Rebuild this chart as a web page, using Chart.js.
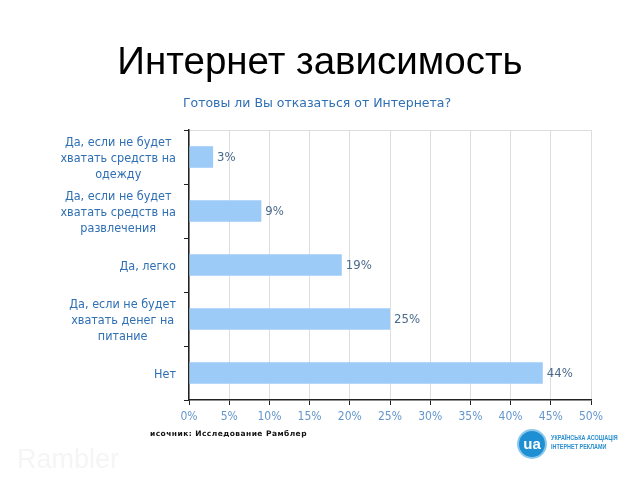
<!DOCTYPE html>
<html>
<head>
<meta charset="utf-8">
<script src="https://cdn.jsdelivr.net/npm/chart.js@4/dist/chart.umd.min.js"></script>
<style>
  html, body { margin: 0; padding: 0; background: #fff; }
  #wrap { position: relative; width: 640px; height: 480px; overflow: hidden; }
  #c { position: absolute; left: 0; top: 0; }
  .title { position: absolute; left: 0; width: 640px; top: 39px; text-align: center;
           font: 38.5px "Liberation Sans", Arial, sans-serif; color: #000; }
  .sub { position: absolute; left: 0; width: 634px; top: 95px; text-align: center;
         font: 12.5px "DejaVu Sans", sans-serif; color: #2f6fb3; }
  .src { position: absolute; left: 150px; top: 429px; font: bold 7.5px "DejaVu Sans", sans-serif;
         letter-spacing: 0.45px; color: #111; }
  .logo { position: absolute; left: 517px; top: 429px; width: 26px; height: 26px; border-radius: 50%;
          border: 2px solid #8cc8ec; background: #1f8fd3; color: #fff; font: bold 15px "Liberation Sans", sans-serif;
          text-align: center; line-height: 25px; }
  .logotxt { position: absolute; left: 551px; top: 433px; font: bold 6.5px "Liberation Sans", sans-serif;
             color: #2a8fcf; line-height: 9px; transform: scaleX(0.84); transform-origin: 0 0; white-space: nowrap; }
  .wm { position: absolute; left: 17px; top: 444px; font: 27px "Liberation Sans", sans-serif; color: #f5f5f5; }
</style>
</head>
<body>
<div id="wrap">
  <canvas id="c" width="640" height="480"></canvas>
  <div class="title">Интернет зависимость</div>
  <div class="sub">Готовы ли Вы отказаться от Интернета?</div>
  <div class="src">исочник: Исследование Рамблер</div>
  <div class="logo">ua</div>
  <div class="logotxt">УКРАЇНСЬКА АСОЦІАЦІЯ<br>ІНТЕРНЕТ РЕКЛАМИ</div>
  <div class="wm">Rambler</div>
</div>
<script>
const categories = [
  ['Да, если не будет', 'хватать средств на', 'одежду'],
  ['Да, если не будет', 'хватать средств на', 'развлечения'],
  ['Да, легко'],
  ['Да, если не будет', 'хватать денег на', 'питание'],
  ['Нет']
];
const values = [3, 9, 19, 25, 44];
const xTicks = [0, 5, 10, 15, 20, 25, 30, 35, 40, 45, 50];

const barBlue = '#9dcbf8';
const labelBlue = '#2f6fb3';
const tickBlue = '#6396cc';
const valueColor = '#4a6a8c';
const labelFont = '12.5px "DejaVu Sans Condensed", "DejaVu Sans", sans-serif';

// value labels to the right of each bar
const valueLabels = {
  id: 'valueLabels',
  afterDatasetsDraw(chart) {
    const ctx = chart.ctx;
    const meta = chart.getDatasetMeta(0);
    ctx.save();
    ctx.font = '13px "DejaVu Sans Condensed", "DejaVu Sans", sans-serif';
    ctx.fillStyle = valueColor;
    ctx.textBaseline = 'middle';
    meta.data.forEach((bar, i) => {
      ctx.fillText(values[i] + '%', bar.x + 4, bar.y + 1);
    });
    ctx.restore();
  }
};

// category labels: block right-aligned to the axis, lines centred inside the block
const catLabels = {
  id: 'catLabels',
  afterDraw(chart) {
    const ctx = chart.ctx;
    const y = chart.scales.y;
    const right = y.right - 13;
    const lh = 16;
    ctx.save();
    ctx.font = labelFont;
    ctx.fillStyle = labelBlue;
    ctx.textAlign = 'center';
    ctx.textBaseline = 'middle';
    categories.forEach((lines, i) => {
      const w = Math.max(...lines.map(l => ctx.measureText(l).width));
      const cx = right - w / 2;
      const cy = y.getPixelForTick(i) + 1.5;
      const y0 = cy - (lines.length - 1) * lh / 2;
      lines.forEach((l, j) => ctx.fillText(l, cx, y0 + j * lh));
    });
    ctx.restore();
  }
};

new Chart(document.getElementById('c'), {
  type: 'bar',
  data: {
    labels: categories,
    datasets: [{
      data: values,
      backgroundColor: barBlue,
      borderWidth: 0,
      barPercentage: 0.4,
      categoryPercentage: 1
    }]
  },
  options: {
    indexAxis: 'y',
    responsive: false,
    animation: false,
    layout: { padding: { top: 130, right: 49, bottom: 55, left: 0 } },
    plugins: {
      legend: { display: false },
      tooltip: { enabled: false }
    },
    scales: {
      x: {
        min: 0,
        max: 50,
        afterBuildTicks: s => { s.ticks = xTicks.map(v => ({ value: v })); },
        afterFit: s => { s.height = 25; },
        ticks: {
          color: tickBlue,
          font: { family: 'DejaVu Sans Condensed', size: 12 },
          padding: 5,
          callback: v => v + '%'
        },
        grid: { color: '#dedede', tickColor: '#222', tickLength: 5 },
        border: { color: '#222', width: 1.5 }
      },
      y: {
        afterFit: s => { s.width = 189; },
        ticks: { display: false },
        grid: {
          offset: true,
          color: c => c.index === 0 ? '#dedede' : 'rgba(0,0,0,0)',
          tickColor: '#222',
          tickLength: 5
        },
        border: { color: '#222', width: 1.5 }
      }
    }
  },
  plugins: [valueLabels, catLabels]
});
</script>
</body>
</html>
